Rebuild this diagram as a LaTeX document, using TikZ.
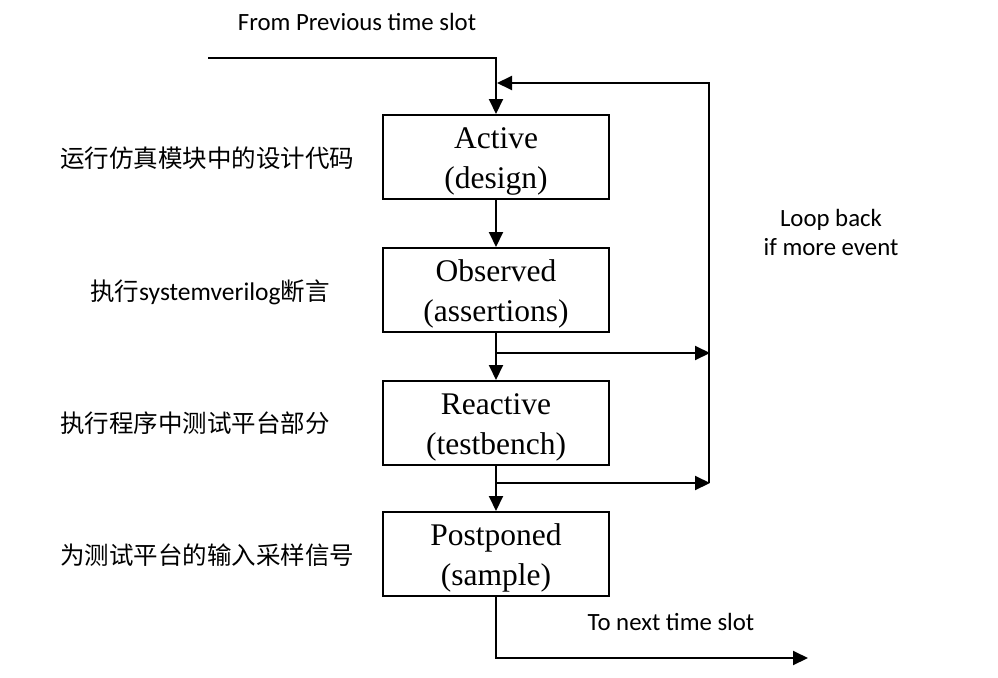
\documentclass[tikz,border=0pt]{standalone}
\usepackage{fontspec}
\setmainfont{Liberation Serif}
\newfontfamily\cjk{Noto Sans CJK SC}
\newfontfamily\calfont{Carlito}
\usetikzlibrary{arrows.meta}
\begin{document}
\begin{tikzpicture}[x=1pt,y=-1pt,
  stagebox/.style={draw,line width=2pt,minimum width=226pt,minimum height=84pt,inner sep=0pt},
  stagetext/.style={inner sep=0pt,align=center,font=\fontsize{31.5}{40}\selectfont},
  flow/.style={line width=2pt,-{Triangle[length=15pt,width=14pt]}},
  lbl/.style={font=\calfont\fontsize{24.8}{29}\selectfont,inner sep=0pt,align=center},
  zh/.style={font=\cjk\fontsize{24.5}{29}\selectfont,inner sep=0pt,anchor=west}]
\useasboundingbox (0,0) rectangle (998,677);
\node[stagebox] (act) at (496,157) {};
\node[stagebox] (obs) at (496,290) {};
\node[stagebox] (rea) at (496,423) {};
\node[stagebox] (pos) at (496,554) {};
\node[stagetext] (actt) at ([yshift=-4pt]act.center) {Active\\(design)};
\node[stagetext] (obst) at ([yshift=-4pt]obs.center) {Observed\\(assertions)};
\node[stagetext] (reat) at ([yshift=-4pt]rea.center) {Reactive\\(testbench)};
\node[stagetext] (post) at ([yshift=-4pt]pos.center) {Postponed\\(sample)};
\coordinate (start) at (208,58);
\coordinate (tc) at (496,58);
\coordinate (lt) at (709,83);
\coordinate (lin) at (497,83);
\coordinate (o1) at (496,353);
\coordinate (e1) at (710,353);
\coordinate (o2) at (496,483);
\coordinate (e2) at (710,483);
\coordinate (lb) at (709,483);
\coordinate (bc) at (496,658);
\coordinate (bend) at (808,658);
\draw[flow] (start) -- (tc) -- (act.north);
\draw[flow] (act.south) -- (obs.north);
\draw[flow] (obs.south) -- (rea.north);
\draw[flow] (rea.south) -- (pos.north);
\draw[flow] (o1) -- (e1);
\draw[flow] (o2) -- (e2);
\draw[flow] (lb) -- (lt) -- (lin);
\draw[flow] (pos.south) -- (bc) -- (bend);
\node[lbl] (from) at (357,22) {From Previous time slot};
\node[lbl] (to) at (671,622) {To next time slot};
\node[lbl] (loop) at (831,232) {Loop back\\if more event};
\node[zh] (z1) at (60,158) {运行仿真模块中的设计代码};
\node[zh] (z2) at (90,292) {执行{\calfont\fontsize{25.5}{29}\selectfont systemverilog}断言};
\node[zh] (z3) at (60,423) {执行程序中测试平台部分};
\node[zh] (z4) at (60,555) {为测试平台的输入采样信号};
\end{tikzpicture}
\end{document}
